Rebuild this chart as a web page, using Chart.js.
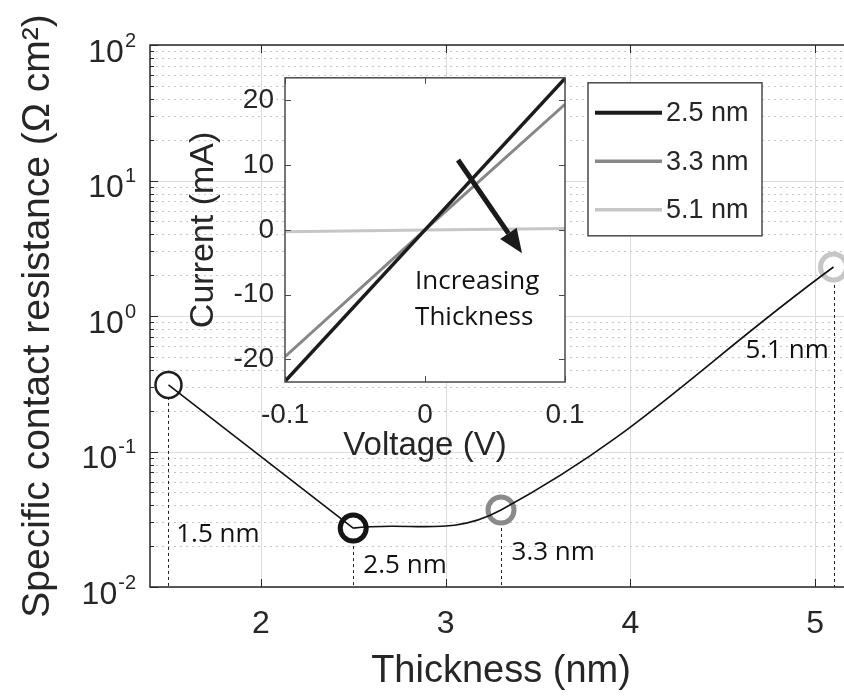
<!DOCTYPE html>
<html>
<head>
<meta charset="utf-8">
<script src="https://cdn.jsdelivr.net/npm/chart.js@4.4.1/dist/chart.umd.min.js"></script>
<style>
  body { margin: 0; background: #fff; }
  #wrap { position: relative; width: 844px; height: 698px; overflow: hidden; }
  #main { position: absolute; left: 0; top: 0; }
  #inset { position: absolute; left: 170px; top: 50px; }
</style>
</head>
<body>
<div id="wrap">
  <canvas id="main" width="870" height="698"></canvas>
  <canvas id="inset" width="620" height="420"></canvas>
</div>
<script>
// main plot: contact resistance vs thickness
const thickness = [1.5, 2.5, 3.3, 5.1];
const resistance = [0.310, 0.0272, 0.0370, 2.30];
const pointLabels = ['1.5 nm', '2.5 nm', '3.3 nm', '5.1 nm'];
const xTicks = [2, 3, 4, 5];
const yTicks = [0.01, 0.1, 1, 10, 100];
const yTickExp = ['-2', '-1', '0', '1', '2'];

// inset: I-V curves
const voltage = [-0.1, 0, 0.1];
const cur25 = [-23.4, 0, 23.4];
const cur33 = [-19.6, 0, 19.4];
const cur51 = [-0.3, 0, 0.2];
const ivLabels = ['2.5 nm', '3.3 nm', '5.1 nm'];
const ivTicksX = [-0.1, 0, 0.1];
const ivTicksY = [-20, -10, 0, 10, 20];

const TXT = '#262626';
const AXFONT = 'Liberation Sans';
const markerColors = ['#1e1e1e', '#151515', '#8a8a8a', '#c6c6c6'];
const markerWidths = [2.5, 5, 5, 5];
const ivColors = ['#1c1c1c', '#878787', '#c6c6c6'];
const ivWidths = [3.5, 3, 3];

// where the "x.x nm" notes sit (data coords, left/baseline)
const labelAt = [[1.542, 0.0215], [2.555, 0.01268], [3.357, 0.0158], [4.623, 0.49]];

const mainDecor = {
  id: 'mainDecor',
  beforeDatasetsDraw(chart) {
    const { ctx, chartArea: a, scales: { x, y } } = chart;
    ctx.save();
    ctx.lineWidth = 1;
    // minor log grid, dotted
    ctx.strokeStyle = '#c6c6c6';
    ctx.setLineDash([2, 4]);
    for (let k = 0; k < yTicks.length - 1; k++) {
      for (let m = 2; m <= 9; m++) {
        const py = Math.round(y.getPixelForValue(m * yTicks[k])) + 0.5;
        ctx.beginPath(); ctx.moveTo(a.left, py); ctx.lineTo(a.right, py); ctx.stroke();
      }
    }
    // major grid
    ctx.setLineDash([]);
    ctx.strokeStyle = '#dcdcdc';
    yTicks.forEach(v => {
      const py = Math.round(y.getPixelForValue(v)) + 0.5;
      ctx.beginPath(); ctx.moveTo(a.left, py); ctx.lineTo(a.right, py); ctx.stroke();
    });
    xTicks.forEach(v => {
      const px = Math.round(x.getPixelForValue(v)) + 0.5;
      ctx.beginPath(); ctx.moveTo(px, a.top); ctx.lineTo(px, a.bottom); ctx.stroke();
    });
    // drop lines from each point
    ctx.strokeStyle = '#222';
    ctx.setLineDash([3, 3]);
    thickness.forEach((t, i) => {
      const px = Math.round(x.getPixelForValue(t)) + 0.5;
      ctx.beginPath(); ctx.moveTo(px, y.getPixelForValue(resistance[i])); ctx.lineTo(px, a.bottom); ctx.stroke();
    });
    ctx.restore();
  },
  afterDatasetsDraw(chart) {
    const { ctx, scales: { x, y } } = chart;
    ctx.save();
    ctx.fillStyle = '#111';
    ctx.font = '26px "Open Sans"';
    ctx.textAlign = 'left';
    ctx.textBaseline = 'alphabetic';
    pointLabels.forEach((s, i) => {
      ctx.fillText(s, x.getPixelForValue(labelAt[i][0]), y.getPixelForValue(labelAt[i][1]));
    });
    ctx.restore();
  },
  afterDraw(chart) {
    const { ctx, chartArea: a, scales: { x, y } } = chart;
    ctx.save();
    ctx.strokeStyle = TXT;
    ctx.lineWidth = 1.5;
    ctx.strokeRect(a.left, a.top, a.right - a.left, a.bottom - a.top);
    ctx.lineWidth = 1;
    xTicks.forEach(v => {
      const px = Math.round(x.getPixelForValue(v)) + 0.5;
      ctx.beginPath();
      ctx.moveTo(px, a.bottom); ctx.lineTo(px, a.bottom - 8);
      ctx.moveTo(px, a.top); ctx.lineTo(px, a.top + 8);
      ctx.stroke();
    });
    for (let k = 0; k < yTicks.length; k++) {
      const py = Math.round(y.getPixelForValue(yTicks[k])) + 0.5;
      ctx.beginPath(); ctx.moveTo(a.left, py); ctx.lineTo(a.left + 8, py); ctx.stroke();
      if (k < yTicks.length - 1) {
        for (let m = 2; m <= 9; m++) {
          const pm = Math.round(y.getPixelForValue(m * yTicks[k])) + 0.5;
          ctx.beginPath(); ctx.moveTo(a.left, pm); ctx.lineTo(a.left + 4, pm); ctx.stroke();
        }
      }
    }
    // 10^n tick labels
    ctx.fillStyle = TXT;
    ctx.textAlign = 'right';
    ctx.textBaseline = 'middle';
    const right = a.left - 14;
    yTicks.forEach((v, k) => {
      const py = y.getPixelForValue(v);
      ctx.font = '20px "' + AXFONT + '"';
      const w = ctx.measureText(yTickExp[k]).width;
      ctx.fillText(yTickExp[k], right, py - 4);
      ctx.font = '32px "' + AXFONT + '"';
      ctx.fillText('10', right - w - 1, py + 8);
    });
    ctx.restore();
  }
};

new Chart(document.getElementById('main'), {
  type: 'line',
  data: {
    datasets: [
      {
        label: 'fit left',
        data: thickness.slice(0, 2).map((t, i) => ({ x: t, y: resistance[i] })),
        borderColor: '#111', borderWidth: 1.6, tension: 0, pointRadius: 0
      },
      {
        label: 'fit right',
        data: thickness.slice(1).map((t, i) => ({ x: t, y: resistance[i + 1] })),
        borderColor: '#111', borderWidth: 1.6, tension: 0.4, pointRadius: 0
      },
      {
        label: 'Specific contact resistance',
        data: thickness.map((t, i) => ({ x: t, y: resistance[i] })),
        showLine: false,
        pointRadius: 13,
        pointBorderWidth: markerWidths,
        pointBorderColor: markerColors,
        pointBackgroundColor: '#fff',
        clip: false
      }
    ]
  },
  options: {
    responsive: false,
    animation: false,
    layout: { padding: { top: 45, left: 0, right: 16, bottom: 0 } },
    plugins: { legend: { display: false }, tooltip: { enabled: false } },
    scales: {
      x: {
        type: 'linear', min: 1.4, max: 5.2,
        afterBuildTicks: s => { s.ticks = xTicks.map(v => ({ value: v })); },
        afterFit: s => { s.height = 111; },
        grid: { display: false, drawTicks: false },
        border: { display: false },
        ticks: { font: { family: AXFONT, size: 32 }, color: TXT, padding: 18 },
        title: {
          display: true, text: 'Thickness (nm)', color: TXT,
          font: { family: AXFONT, size: 38 }, padding: { top: 0, bottom: 4 }
        }
      },
      y: {
        type: 'logarithmic', min: 0.01, max: 100,
        afterFit: s => { s.width = 150; },
        grid: { display: false, drawTicks: false },
        border: { display: false },
        ticks: { display: false },
        title: {
          display: true, text: 'Specific contact resistance (Ω cm²)', color: TXT,
          font: { family: AXFONT, size: 39 }, padding: { top: 15, bottom: 0 }
        }
      }
    }
  },
  plugins: [mainDecor]
});

// inset annotation: arrow and text (data coords of the inset)
const arrowFrom = [0.0236, 10.8];
const arrowTo = [0.0693, -3.6];
const noteLines = ['Increasing', 'Thickness'];
const noteAt = [[-0.0071, -9.2], [-0.0071, -14.7]];

const insetDecor = {
  id: 'insetDecor',
  beforeDraw(chart) {
    const { ctx, chartArea: a } = chart;
    ctx.save();
    ctx.fillStyle = '#fff';
    ctx.fillRect(a.left, a.top, a.right - a.left, a.bottom - a.top);
    ctx.restore();
  },
  afterDatasetsDraw(chart) {
    const { ctx, chartArea: a, scales: { x, y } } = chart;
    ctx.save();
    ctx.strokeStyle = '#4a4a4a';
    ctx.lineWidth = 1.5;
    ctx.strokeRect(a.left, a.top, a.right - a.left, a.bottom - a.top);
    ctx.lineWidth = 1;
    ivTicksX.forEach(v => {
      const px = Math.round(x.getPixelForValue(v)) + 0.5;
      ctx.beginPath();
      ctx.moveTo(px, a.bottom); ctx.lineTo(px, a.bottom - 6);
      ctx.moveTo(px, a.top); ctx.lineTo(px, a.top + 6);
      ctx.stroke();
    });
    ivTicksY.forEach(v => {
      const py = Math.round(y.getPixelForValue(v)) + 0.5;
      ctx.beginPath();
      ctx.moveTo(a.left, py); ctx.lineTo(a.left + 6, py);
      ctx.moveTo(a.right, py); ctx.lineTo(a.right - 6, py);
      ctx.stroke();
    });

    // arrow
    const x0 = x.getPixelForValue(arrowFrom[0]), y0 = y.getPixelForValue(arrowFrom[1]);
    const x1 = x.getPixelForValue(arrowTo[0]), y1 = y.getPixelForValue(arrowTo[1]);
    const ang = Math.atan2(y1 - y0, x1 - x0);
    const hl = 24, hw = 10;
    const bx = x1 - hl * Math.cos(ang), by = y1 - hl * Math.sin(ang);
    ctx.strokeStyle = '#1a1a1a';
    ctx.fillStyle = '#1a1a1a';
    ctx.lineWidth = 5;
    ctx.beginPath(); ctx.moveTo(x0, y0); ctx.lineTo(bx, by); ctx.stroke();
    ctx.beginPath();
    ctx.moveTo(x1, y1);
    ctx.lineTo(bx + hw * Math.sin(ang), by - hw * Math.cos(ang));
    ctx.lineTo(bx - hw * Math.sin(ang), by + hw * Math.cos(ang));
    ctx.closePath(); ctx.fill();

    ctx.fillStyle = '#111';
    ctx.font = '26px "Open Sans"';
    ctx.textAlign = 'left';
    ctx.textBaseline = 'alphabetic';
    noteLines.forEach((s, i) => {
      ctx.fillText(s, x.getPixelForValue(noteAt[i][0]), y.getPixelForValue(noteAt[i][1]));
    });

    // legend box to the right of the inset
    const lx = a.right + 23, ly = a.top + 5, lw = 174, lh = 153;
    ctx.fillStyle = '#fff';
    ctx.fillRect(lx, ly, lw, lh);
    ctx.strokeStyle = '#4a4a4a';
    ctx.lineWidth = 1.5;
    ctx.strokeRect(lx, ly, lw, lh);
    ctx.font = '27px "' + AXFONT + '"';
    ctx.textBaseline = 'middle';
    chart.data.datasets.forEach((ds, i) => {
      const ry = ly + 30 + i * 48.5;
      ctx.strokeStyle = ds.borderColor;
      ctx.lineWidth = ds.borderWidth + 0.5;
      ctx.beginPath(); ctx.moveTo(lx + 7, ry); ctx.lineTo(lx + 74, ry); ctx.stroke();
      ctx.fillStyle = TXT;
      ctx.fillText(ds.label, lx + 78, ry + 1);
    });
    ctx.restore();
  }
};

const ivSeries = [cur25, cur33, cur51];
new Chart(document.getElementById('inset'), {
  type: 'line',
  data: {
    datasets: ivSeries.map((c, k) => ({
      label: ivLabels[k],
      data: voltage.map((v, i) => ({ x: v, y: c[i] })),
      borderColor: ivColors[k],
      borderWidth: ivWidths[k],
      pointRadius: 0,
      tension: 0
    }))
  },
  options: {
    responsive: false,
    animation: false,
    layout: { padding: { top: 15, left: 0, right: 225, bottom: 0 } },
    plugins: { legend: { display: false }, tooltip: { enabled: false } },
    scales: {
      x: {
        type: 'linear', min: -0.1, max: 0.1,
        afterBuildTicks: s => { s.ticks = ivTicksX.map(v => ({ value: v })); },
        afterFit: s => { s.height = 88; },
        grid: { display: false, drawTicks: false },
        border: { display: false },
        ticks: { font: { family: AXFONT, size: 28 }, color: TXT, padding: 16, callback: v => String(v) },
        title: {
          display: true, text: 'Voltage (V)', color: TXT,
          font: { family: AXFONT, size: 33 }, padding: { top: 0, bottom: 4 }
        }
      },
      y: {
        type: 'linear', min: -23.5, max: 23.5,
        afterBuildTicks: s => { s.ticks = ivTicksY.map(v => ({ value: v })); },
        afterFit: s => { s.width = 115; },
        grid: { display: false, drawTicks: false },
        border: { display: false },
        ticks: { font: { family: AXFONT, size: 28 }, color: TXT, padding: 11, callback: v => String(v) },
        title: {
          display: true, text: 'Current (mA)', color: TXT,
          font: { family: AXFONT, size: 34 }, padding: { top: 13, bottom: 0 }
        }
      }
    }
  },
  plugins: [insetDecor]
});
</script>
</body>
</html>
